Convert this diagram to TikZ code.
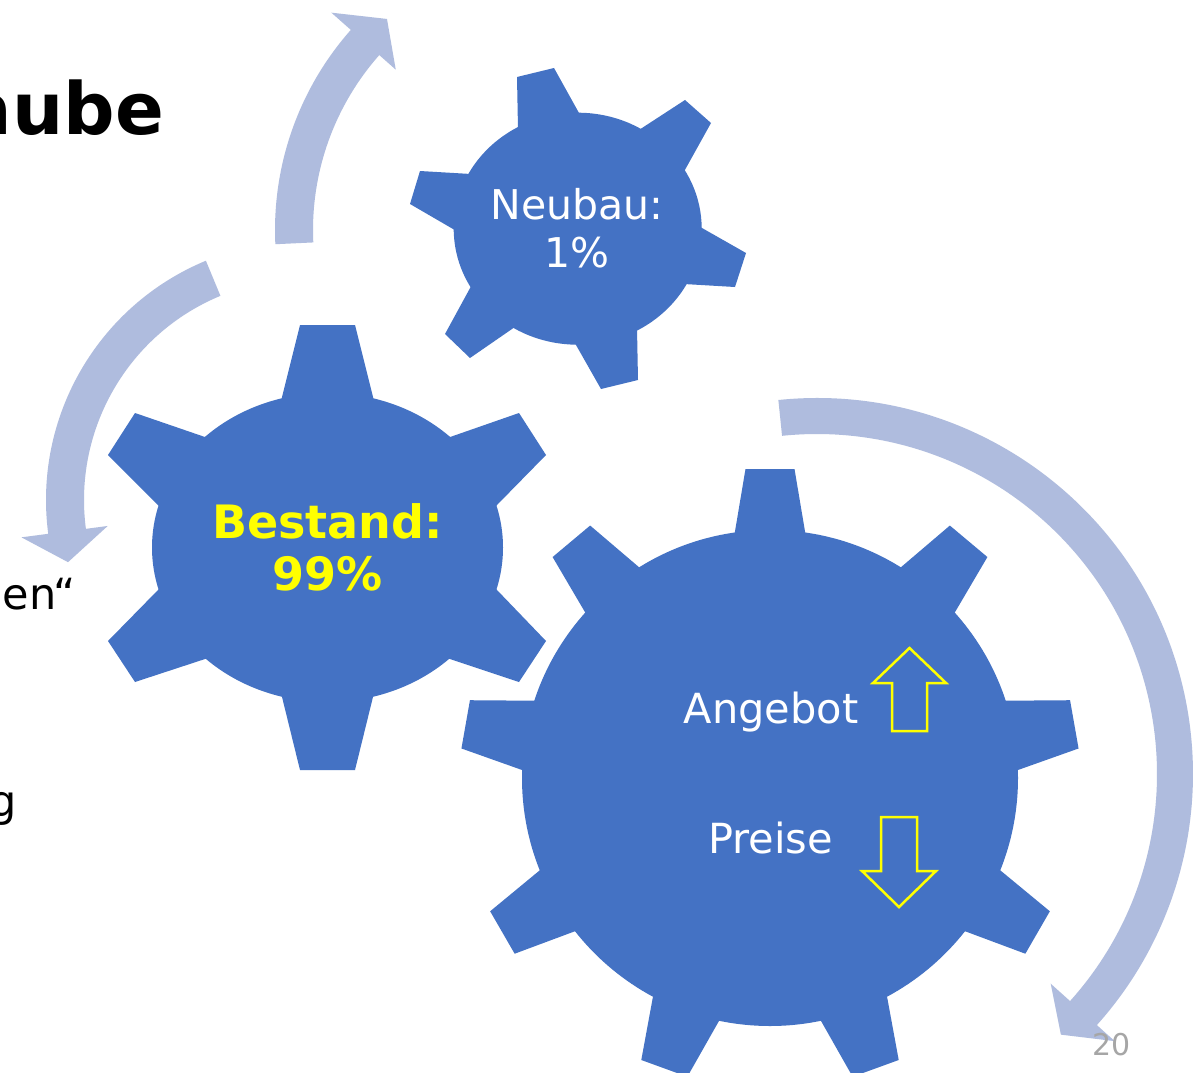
\documentclass[tikz,border=0pt]{standalone}
\usepackage{fontspec}
\setmainfont{DejaVu Sans}
\usetikzlibrary{calc}
\definecolor{gearblue}{RGB}{68,114,196}
\definecolor{arrowblue}{RGB}{175,188,222}
\definecolor{pagegray}{RGB}{166,166,166}
\definecolor{hiyellow}{RGB}{255,255,0}
% tooth: tip1, tip2, base2, base1, centre; side edges are prolonged into the body
\newcommand\gtooth[5]{\fill[gear] #1 -- #2 -- ($#3!-0.35!#2$) -- #5 -- ($#4!-0.35!#1$) -- cycle;}
\begin{document}
\begin{tikzpicture}[x=1pt,y=-1pt,
  gear/.style={fill=gearblue},
  cyc/.style={fill=arrowblue},
  ygarrow/.style={draw=hiyellow, line width=2.5pt, line join=miter},
  lbl/.style={inner sep=0pt, text=white, align=center},
  txt/.style={inner sep=0pt, text=black}]
\useasboundingbox (0,0) rectangle (1195,1073);
\clip (0,0) rectangle (1195,1073);
\fill[white] (0,0) rectangle (1195,1073);

% circular arrows
\coordinate (c1) at (577,230);
\coordinate (c2) at (305,500);
\coordinate (c3) at (817,774);
\fill[cyc] ($(c1)+(-182.7:302)$) arc[start angle=-182.7, end angle=-138.5, radius=302]
  -- ($(c1)+(-138.5:328)$) -- ($(c1)+(-132:284)$) -- ($(c1)+(-138.5:242)$)
  -- ($(c1)+(-138.5:264)$) arc[start angle=-138.5, end angle=-182.7, radius=264] -- cycle;
\fill[cyc] ($(c2)+(-112.5:259)$) arc[start angle=-112.5, end angle=-187.5, radius=259]
  -- ($(c2)+(-187.5:286)$) -- ($(c2)+(-194.7:245)$) -- ($(c2)+(-187.5:199)$)
  -- ($(c2)+(-187.5:221)$) arc[start angle=-187.5, end angle=-112.5, radius=221] -- cycle;
\fill[cyc] ($(c3)+(-95.9:376)$) arc[start angle=-95.9, end angle=41.9, radius=376]
  -- ($(c3)+(41.9:400)$) -- ($(c3)+(46.9:357)$) -- ($(c3)+(41.9:314)$)
  -- ($(c3)+(41.9:340)$) arc[start angle=41.9, end angle=-95.9, radius=340] -- cycle;

% gear Bestand
\coordinate (gb) at (327.5,547.5);
\fill[gear] (gb) ellipse [x radius=175.5, y radius=154.5];
\gtooth{(300,325)}{(355,325)}{(372,393)}{(283,393)}{(gb)}
\gtooth{(519,413)}{(546,455)}{(497,505)}{(453,436)}{(gb)}
\gtooth{(546,641)}{(519,682)}{(453,660)}{(497,590)}{(gb)}
\gtooth{(355,770)}{(300,770)}{(283,701)}{(372,701)}{(gb)}
\gtooth{(135,682)}{(108,641)}{(158,590)}{(202,660)}{(gb)}
\gtooth{(108,455)}{(135,413)}{(202,436)}{(158,505)}{(gb)}

% gear Neubau
\coordinate (gn) at (577.7,228.7);
\fill[gear] (gn) ellipse [x radius=124, y radius=116];
\gtooth{(517,77)}{(554,68)}{(579,113)}{(518,129)}{(gn)}
\gtooth{(685,100)}{(711,123)}{(686,168)}{(642,128)}{(gn)}
\gtooth{(746,253)}{(735,287)}{(684,284)}{(702,228)}{(gn)}
\gtooth{(638,380)}{(601,389)}{(576,345)}{(637,328)}{(gn)}
\gtooth{(470,358)}{(445,334)}{(469,290)}{(512,329)}{(gn)}
\gtooth{(410,204)}{(420,171)}{(471,174)}{(453,229)}{(gn)}

% gear Angebot/Preise
\coordinate (gm) at (770,778);
\foreach \a in {90,130,...,410}
  \fill[gear, shift={(770,778)}, rotate=\a] (0,-37.8) -- (230,-37.8) -- (309,-24.5)
    -- (309,24.5) -- (230,37.8) -- (0,37.8) -- cycle;
\fill[gear] (gm) circle [radius=248];

% yellow arrows
\draw[ygarrow] (909.5,648) -- (946,683) -- (927,683) -- (927,731) -- (892,731)
  -- (892,683) -- (873,683) -- cycle;
\draw[ygarrow] (881,817) -- (917,817) -- (917,871) -- (936,871) -- (899,907)
  -- (862,871) -- (881,871) -- cycle;

% labels
\node[lbl, text=hiyellow, font=\bfseries\fontsize{46}{52}\selectfont] (bestand) at (327.5,547) {Bestand:\\99\%};
\node[lbl, font=\fontsize{41}{48}\selectfont] (neubau) at (577,228) {Neubau:\\1\%};
\node[lbl, anchor=base, font=\fontsize{41.5}{48}\selectfont] (angebot) at (771,723) {Angebot};
\node[lbl, anchor=base, font=\fontsize{41.5}{48}\selectfont] (preise) at (770.5,853) {Preise};

% cut-off slide texts
\node[txt, anchor=base east, font=\bfseries\fontsize{72}{80}\selectfont] (title) at (164,134) {aube};
\node[txt, anchor=base east, font=\fontsize{43}{50}\selectfont] (t1) at (76,609) {en“};
\node[txt, anchor=base east, font=\fontsize{43}{50}\selectfont] (t2) at (17,816) {g};
\node[inner sep=0pt, anchor=base west, text=pagegray, font=\fontsize{30}{36}\selectfont] (pnum) at (1092,1055) {20};
\end{tikzpicture}
\end{document}
